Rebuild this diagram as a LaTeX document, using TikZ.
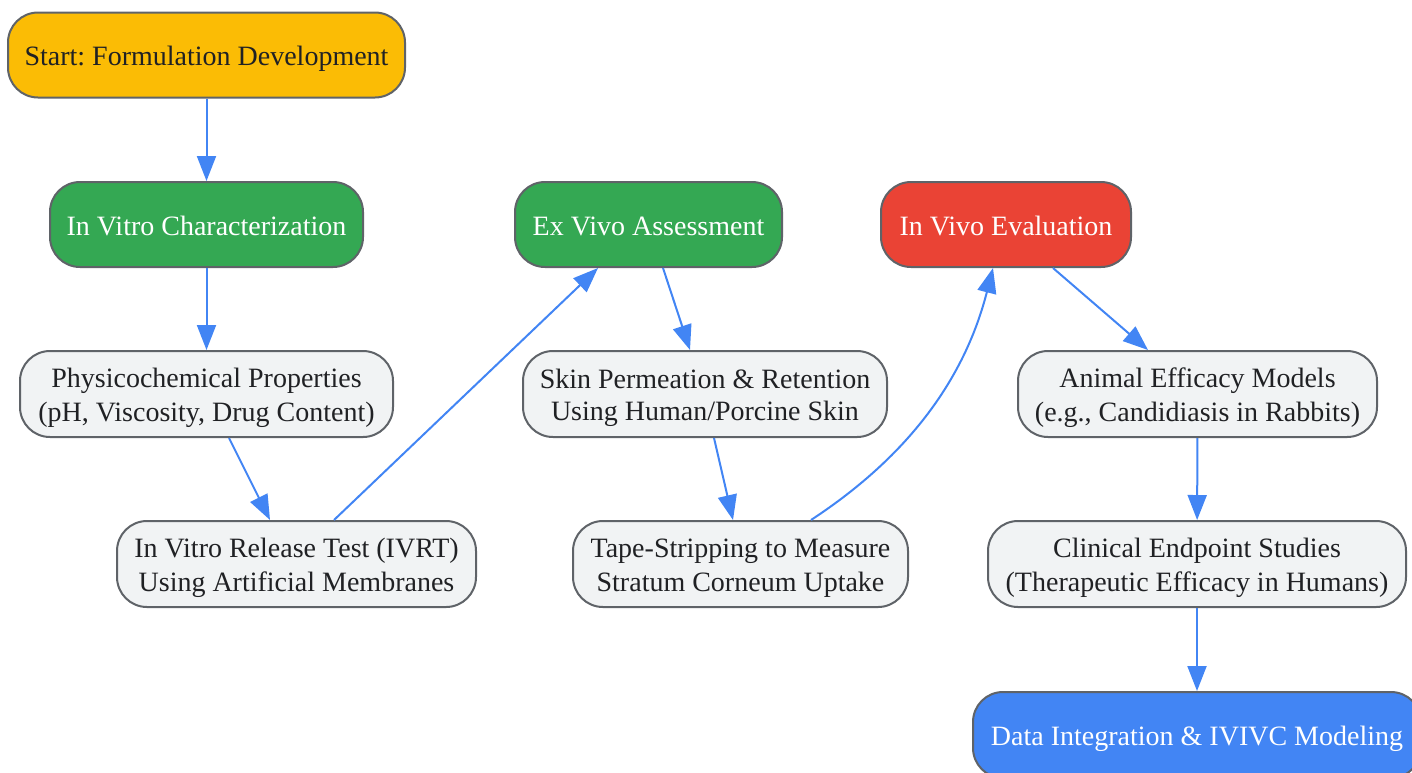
\documentclass[tikz,border=0pt]{standalone}
\usepackage{fontspec}
\setmainfont{Liberation Serif}
\usetikzlibrary{arrows.meta}
\frenchspacing
\definecolor{cyellow}{HTML}{FBBC05}
\definecolor{cgreen}{HTML}{34A853}
\definecolor{cred}{HTML}{EA4335}
\definecolor{cblue}{HTML}{4285F4}
\definecolor{clight}{HTML}{F1F3F4}
\definecolor{cborder}{HTML}{5F6368}
\definecolor{ctext}{HTML}{202124}
\newcommand\lnstrut{\rule[-4.8pt]{0pt}{32pt}}
\tikzset{
  box/.style={draw=cborder, line width=2pt, rounded corners=30pt, align=center,
    inner sep=0pt, minimum height=85pt, font=\fontsize{28}{32}\selectfont\frenchspacing, text=ctext},
  lightbox/.style={box, fill=clight},
  startbox/.style={box, fill=cyellow},
  greenbox/.style={box, fill=cgreen, text=white},
  redbox/.style={box, fill=cred, text=white},
  bluebox/.style={box, fill=cblue, text=white},
  link/.style={draw=cblue, line width=2pt, -{Triangle[length=25pt,width=19pt]}},
}
\begin{document}
\begin{tikzpicture}[x=1pt,y=-1pt]
\useasboundingbox (0,0) rectangle (1412,772);
\node[startbox, minimum width=397pt] (start) at (206.5,55) {\lnstrut Start: Formulation Development};
\node[greenbox, minimum width=313pt] (invitro) at (206.5,224.5) {\lnstrut In Vitro Characterization};
\node[greenbox, minimum width=267pt] (exvivo) at (648.5,224.5) {\lnstrut Ex Vivo Assessment};
\node[redbox, minimum width=250pt] (invivo) at (1006,224.5) {\lnstrut In Vivo Evaluation};
\node[lightbox, minimum width=373pt, minimum height=86pt] (phys) at (206.5,394) {\lnstrut Physicochemical Properties\\\lnstrut (pH, Viscosity, Drug Content)};
\node[lightbox, minimum width=364pt, minimum height=86pt] (skin) at (705,394) {\lnstrut Skin Permeation \& Retention\\\lnstrut Using Human/Porcine Skin};
\node[lightbox, minimum width=359pt, minimum height=86pt] (animal) at (1197.5,394) {\lnstrut Animal Efficacy Models\\\lnstrut (e.g., Candidiasis in Rabbits)};
\node[lightbox, minimum width=359pt, minimum height=86pt] (ivrt) at (296.5,564) {\lnstrut In Vitro Release Test (IVRT)\\\lnstrut Using Artificial Membranes};
\node[lightbox, minimum width=335pt, minimum height=86pt] (tape) at (740.5,564) {\lnstrut Tape-Stripping to Measure\\\lnstrut Stratum Corneum Uptake};
\node[lightbox, minimum width=418pt, minimum height=86pt] (clin) at (1197,564) {\lnstrut Clinical Endpoint Studies\\\lnstrut (Therapeutic Efficacy in Humans)};
\node[bluebox, minimum width=448pt, minimum height=86pt] (data) at (1197,735) {\lnstrut Data Integration \& IVIVC Modeling};

\draw[link] (start) -- (invitro);
\draw[link] (invitro) -- (phys);
\draw[link] ([xshift=22.5pt]phys.south) -- ([xshift=-26.5pt]ivrt.north);
\draw[link] ([xshift=37.5pt]ivrt.north) -- ([xshift=-50.5pt]exvivo.south);
\draw[link] ([xshift=14.5pt]exvivo.south) -- ([xshift=-15pt]skin.north);
\draw[link] ([xshift=9pt]skin.south) -- ([xshift=-7.5pt]tape.north);
\draw[link] ([xshift=70.5pt]tape.north) .. controls (878,476) and (958,405) .. ([xshift=-13pt]invivo.south);
\draw[link] ([xshift=47pt]invivo.south) -- ([xshift=-49.5pt]animal.north);
\draw[link] (animal) -- (clin);
\draw[link] (clin) -- (data);
\end{tikzpicture}
\end{document}
